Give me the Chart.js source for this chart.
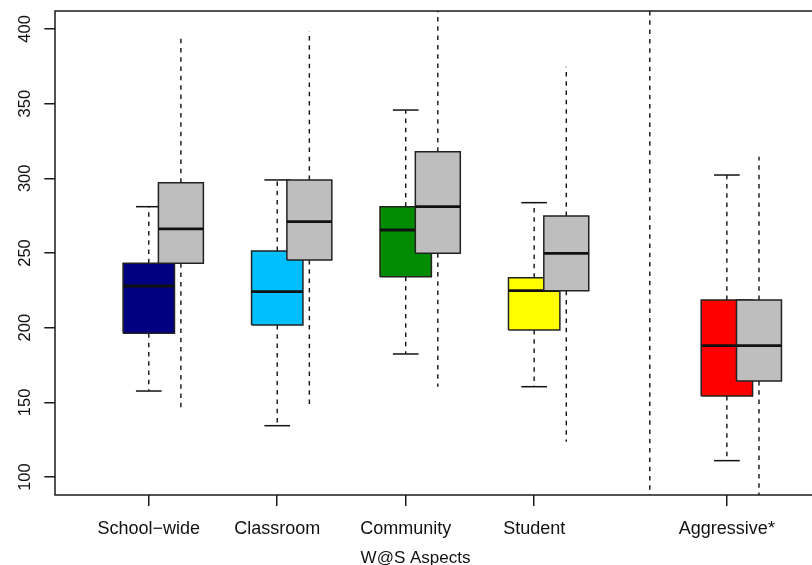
<!DOCTYPE html>
<html>
<head>
<meta charset="utf-8">
<script src="https://cdn.jsdelivr.net/npm/chart.js@4.4.1/dist/chart.umd.min.js"></script>
<style>
  html, body { margin: 0; padding: 0; background: #fff; overflow: hidden; }
  #wrap { width: 830px; height: 570px; }
</style>
</head>
<body>
<div id="wrap"><canvas id="boxChart"></canvas></div>
<script>
// W@S aspects: coloured boxplot per aspect, grey boxplot added next to it
const categories = ['School\u2212wide', 'Classroom', 'Community', 'Student', 'Aggressive*'];
const positions = [1, 2, 3, 4, 5.5];
const boxColors = ['#000080', '#00BFFF', '#008B00', '#FFFF00', '#FF0000'];
const greyColors = ['#BEBEBE', '#BEBEBE', '#BEBEBE', '#BEBEBE', '#BEBEBE'];

// coloured boxes
const lowA  = [157.6, 134.4, 182.4, 160.5, 111.0];
const q1A   = [196.2, 201.8, 234.1, 198.5, 154.3];
const medA  = [227.9, 224.1, 265.4, 224.8, 188.0];
const q3A   = [243.1, 251.3, 281.0, 233.5, 218.5];
const highA = [281.0, 298.9, 345.7, 283.7, 302.2];

// grey boxes
const lowB  = [146.0, 148.7, 160.5, 123.7, 80.0];
const q1B   = [243.1, 245.3, 249.8, 224.8, 164.3];
const medB  = [266.1, 271.0, 281.0, 249.8, 188.0];
const q3B   = [297.1, 298.9, 317.8, 274.8, 218.5];
const highB = [396.6, 398.6, 425.0, 374.7, 314.5];

const yTicks = [100, 150, 200, 250, 300, 350, 400];
const yMin = 88, yMax = 412;
const dividerAt = 4.9;

Chart.defaults.font.family = "'Liberation Sans', Arial, sans-serif";
const ink = '#111';
const dash = [4.5, 4.8];

let sets = [];

function seg(points, extra) {
    sets.push(Object.assign({
        data: points,
        borderColor: ink,
        borderWidth: 1.5,
        pointRadius: 0,
        fill: false,
        clip: 0
    }, extra));
}

function addBoxes(low, q1, med, q3, high, colors, shift, half, caps) {
    for (let i = 0; i < positions.length; i++) {
        const x = positions[i] + shift;
        const l = x - half, r = x + half;
        // whiskers, dashes start at the box edge
        seg([{x: x, y: q3[i]}, {x: x, y: high[i]}], {borderDash: dash, borderWidth: 1.4});
        seg([{x: x, y: q1[i]}, {x: x, y: low[i]}], {borderDash: dash, borderWidth: 1.4});
        if (caps) {
            seg([{x: x - half / 2, y: high[i]}, {x: x + half / 2, y: high[i]}]);
            seg([{x: x - half / 2, y: low[i]}, {x: x + half / 2, y: low[i]}]);
        }
        // box body
        seg([{x: l, y: q3[i]}, {x: r, y: q3[i]}], {
            borderColor: 'rgba(0,0,0,0)',
            backgroundColor: colors[i],
            fill: {value: q1[i]}
        });
        seg([{x: l, y: q1[i]}, {x: l, y: q3[i]}, {x: r, y: q3[i]}, {x: r, y: q1[i]}, {x: l, y: q1[i]}],
            {borderWidth: 1.5, borderColor: '#222'});
        // median
        seg([{x: l, y: med[i]}, {x: r, y: med[i]}], {borderWidth: 2.8, borderColor: '#111'});
    }
}

addBoxes(lowA, q1A, medA, q3A, highA, boxColors, 0, 0.2, true);
addBoxes(lowB, q1B, medB, q3B, highB, greyColors, 0.25, 0.175, false);
seg([{x: dividerAt, y: yMax}, {x: dividerAt, y: yMin}], {borderDash: dash, borderWidth: 1.4});

// later items on top
sets.forEach((d, i) => { d.order = sets.length - i; });

const frame = {
    id: 'frame',
    afterDatasetsDraw(chart) {
        const a = chart.chartArea, ctx = chart.ctx;
        ctx.save();
        ctx.strokeStyle = '#1a1a1a';
        ctx.lineWidth = 1.5;
        ctx.strokeRect(a.left, a.top, a.right - a.left, a.bottom - a.top);
        ctx.restore();
    }
};

new Chart(document.getElementById('boxChart'), {
    type: 'line',
    data: {datasets: sets},
    plugins: [frame],
    options: {
        responsive: true,
        maintainAspectRatio: false,
        animation: false,
        events: [],
        layout: {padding: {left: 11, top: 11, right: 10, bottom: 0}},
        plugins: {
            legend: {display: false},
            tooltip: {enabled: false},
            title: {
                display: true,
                text: 'W@S Aspects',
                position: 'bottom',
                color: ink,
                font: {size: 17, weight: 'normal'},
                padding: {top: 0, bottom: 1.8}
            }
        },
        scales: {
            x: {
                type: 'linear',
                min: 0.27,
                max: 6.225,
                afterBuildTicks: s => { s.ticks = positions.map(v => ({value: v})); },
                afterFit: s => { s.height = 52.8; s.paddingLeft = 0; s.paddingRight = 0; },
                ticks: {
                    callback: v => categories[positions.indexOf(v)],
                    autoSkip: false,
                    maxRotation: 0,
                    color: ink,
                    font: {size: 18},
                    padding: 12.5
                },
                grid: {drawOnChartArea: false, tickLength: 11, color: '#1a1a1a', lineWidth: 1.5},
                border: {display: false}
            },
            y: {
                type: 'linear',
                min: yMin,
                max: yMax,
                afterBuildTicks: s => { s.ticks = yTicks.map(v => ({value: v})); },
                afterFit: s => { s.width = 44; s.paddingTop = 0; s.paddingBottom = 0; },
                ticks: {
                    minRotation: 90,
                    maxRotation: 90,
                    crossAlign: 'center',
                    autoSkip: false,
                    color: ink,
                    font: {size: 16.5},
                    padding: 5
                },
                grid: {drawOnChartArea: false, tickLength: 10.7, color: '#1a1a1a', lineWidth: 1.5},
                border: {display: false}
            }
        }
    }
});
</script>
</body>
</html>
